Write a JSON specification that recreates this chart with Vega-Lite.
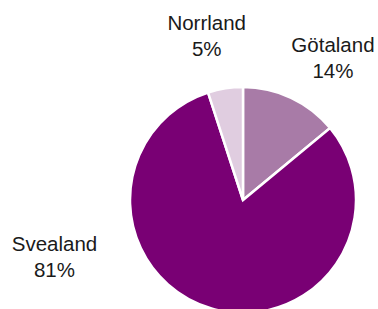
{
  "$schema": "https://vega.github.io/schema/vega-lite/v6.json",
  "width": 270,
  "height": 218,
  "autosize": {"type": "none"},
  "padding": {"left": 108, "top": 91, "right": 0, "bottom": 0},
  "background": "white",
  "config": {"view": {"stroke": null}},
  "data": {
    "values": [
      {"region": "Götaland", "share": 14},
      {"region": "Svealand", "share": 81},
      {"region": "Norrland", "share": 5}
    ]
  },
  "transform": [
    {"window": [{"op": "row_number", "as": "idx"}]},
    {"calculate": "datum.region + '\\n' + datum.share + '%'", "as": "lbl"}
  ],
  "encoding": {
    "theta": {"field": "share", "type": "quantitative", "stack": true},
    "order": {"field": "idx", "type": "quantitative"},
    "color": {
      "field": "region",
      "type": "nominal",
      "scale": {"domain": ["Götaland", "Svealand", "Norrland"], "range": ["#a87ba7", "#790074", "#e0cde0"]},
      "legend": null
    }
  },
  "layer": [
    {"mark": {"type": "arc", "outerRadius": 113, "stroke": "white", "strokeWidth": 2.5}},
    {
      "mark": {"type": "text", "radius": 165, "font": "Liberation Sans", "fontSize": 20.5, "lineHeight": 26, "lineBreak": "\n", "align": "center", "baseline": "middle", "dx": 19.7, "dy": -4.6},
      "encoding": {
        "color": {"value": "#1a1a1a"},
        "text": {"condition": {"test": "datum.region === 'Götaland'", "field": "lbl"}, "value": ""}
      }
    },
    {
      "mark": {"type": "text", "radius": 165, "font": "Liberation Sans", "fontSize": 20.5, "lineHeight": 26, "lineBreak": "\n", "align": "center", "baseline": "middle", "dx": -10.5, "dy": -12.7},
      "encoding": {
        "color": {"value": "#1a1a1a"},
        "text": {"condition": {"test": "datum.region === 'Norrland'", "field": "lbl"}, "value": ""}
      }
    },
    {
      "mark": {"type": "text", "radius": 165, "font": "Liberation Sans", "fontSize": 20.5, "lineHeight": 26, "lineBreak": "\n", "align": "center", "baseline": "middle", "dx": -142.5, "dy": -113.5},
      "encoding": {
        "color": {"value": "#1a1a1a"},
        "text": {"condition": {"test": "datum.region === 'Svealand'", "field": "lbl"}, "value": ""}
      }
    }
  ]
}
